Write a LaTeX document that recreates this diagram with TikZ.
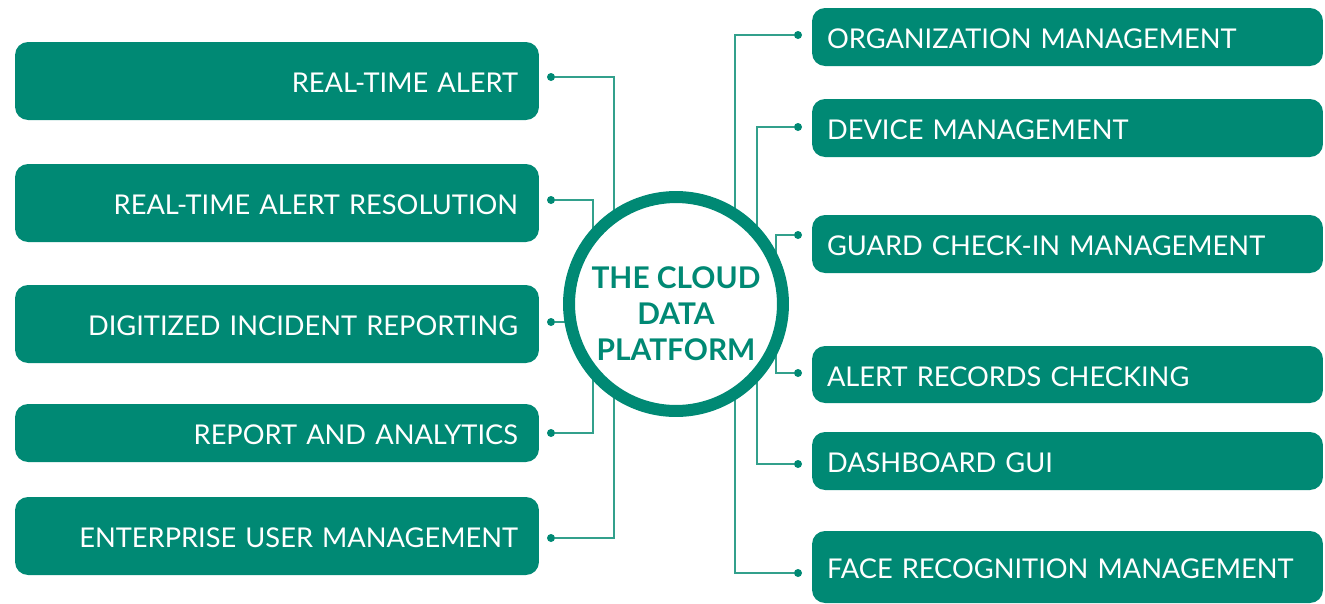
\documentclass[tikz,border=0pt]{standalone}
\usepackage{fontspec}
\setmainfont{Lato}
\usepackage{tikz}
\usetikzlibrary{positioning,backgrounds}
\definecolor{cdteal}{RGB}{0,137,116}
\definecolor{cdline}{RGB}{50,160,140}
\tikzstyle{leftbox} = [rectangle, fill=cdteal, text=white, rounded corners=0.26cm, text width=9.64cm, text height=0.46cm, text depth=0pt, inner xsep=0.42cm, inner ysep=0pt, align=right, font=\fontsize{15.5}{18}\selectfont]
\tikzstyle{rightbox} = [rectangle, fill=cdteal, text=white, rounded corners=0.26cm, text width=9.62cm, text height=0.46cm, text depth=0pt, inner xsep=0.3cm, inner ysep=0pt, align=left, font=\fontsize{15.5}{18}\selectfont]
\tikzstyle{dot} = [circle, fill=cdteal, inner sep=0pt, minimum size=0.16cm]
\tikzstyle{link} = [line width=1.1pt, color=cdline]

\begin{document}
\begin{tikzpicture}[x=0.02cm, y=-0.02cm]
    \clip (0,0) rectangle (1325,603);

    % Left side
    \node[leftbox, minimum height=1.56cm] (alert) at (277,81) {REAL-TIME ALERT};
    \node[leftbox, minimum height=1.56cm] (resolution) at (277,203) {REAL-TIME ALERT RESOLUTION};
    \node[leftbox, minimum height=1.56cm] (incident) at (277,324) {DIGITIZED INCIDENT REPORTING};
    \node[leftbox, minimum height=1.16cm] (analytics) at (277,433) {REPORT AND ANALYTICS};
    \node[leftbox, minimum height=1.56cm] (enterprise) at (277,536) {ENTERPRISE USER MANAGEMENT};

    \node[dot] (alertdot) at (551,77) {};
    \node[dot] (resolutiondot) at (551,200) {};
    \node[dot] (incidentdot) at (551,322) {};
    \node[dot] (analyticsdot) at (551,433) {};
    \node[dot] (enterprisedot) at (551,538) {};

    % Right side
    \node[rightbox, minimum height=1.16cm] (org) at (1067.5,37) {ORGANIZATION MANAGEMENT};
    \node[rightbox, minimum height=1.16cm] (device) at (1067.5,128) {DEVICE MANAGEMENT};
    \node[rightbox, minimum height=1.16cm] (guard) at (1067.5,244) {GUARD CHECK-IN MANAGEMENT};
    \node[rightbox, minimum height=1.14cm] (records) at (1067.5,374.5) {ALERT RECORDS CHECKING};
    \node[rightbox, minimum height=1.16cm] (dashboard) at (1067.5,461) {DASHBOARD GUI};
    \node[rightbox, minimum height=1.44cm] (face) at (1067.5,567) {FACE RECOGNITION MANAGEMENT};

    \node[dot] (orgdot) at (798,35) {};
    \node[dot] (devicedot) at (798,127) {};
    \node[dot] (guarddot) at (798,235) {};
    \node[dot] (recordsdot) at (798,373) {};
    \node[dot] (dashboarddot) at (798,464) {};
    \node[dot] (facedot) at (798,573) {};

    % Centre
    \node[circle, draw=cdteal, line width=0.24cm, fill=white, minimum size=4.28cm, inner sep=0pt] (hub) at (676,304) {};
    \node[text=cdteal, font=\bfseries\fontsize{17}{20.5}\selectfont, align=center] (title) at (676,314) {THE CLOUD\\DATA\\PLATFORM};

    % Connectors
    \coordinate (louter) at (614,300);
    \coordinate (linner) at (593,300);
    \coordinate (router) at (735,300);
    \coordinate (rmid) at (757,300);
    \coordinate (rinner) at (776,300);
    \begin{scope}[on background layer]
        \draw[link] (alertdot) -| (louter) |- (enterprisedot);
        \draw[link] (resolutiondot) -| (linner) |- (analyticsdot);
        \draw[link] (incidentdot) -- (incidentdot -| hub);
        \draw[link] (orgdot) -| (router) |- (facedot);
        \draw[link] (devicedot) -| (rmid) |- (dashboarddot);
        \draw[link] (guarddot) -| (rinner) |- (recordsdot);
    \end{scope}
\end{tikzpicture}
\end{document}
